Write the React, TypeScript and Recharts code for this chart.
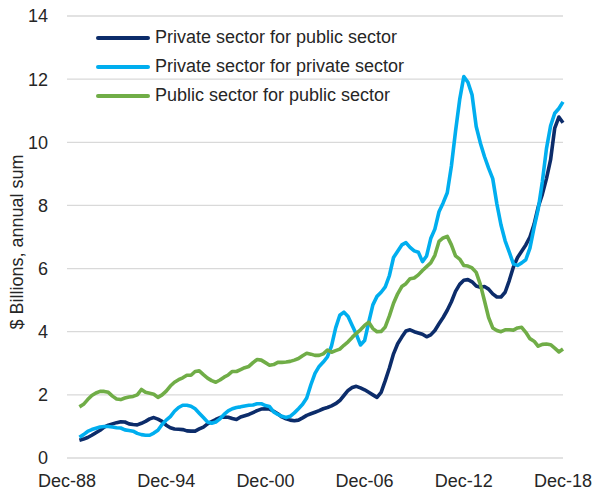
import { LineChart, Line, XAxis, YAxis, CartesianGrid, Legend } from "recharts";

const FONT = '"Liberation Sans", Arial, sans-serif';
const TEXT_COLOR = "#262626";

// quarterly categories, Dec-88 .. Dec-18
const MONTHS = ["Mar", "Jun", "Sep", "Dec"];
const QUARTERS: string[] = [];
for (let i = 0; i <= 120; i++) {
  const q = i + 3;
  const yr = 1988 + Math.floor(q / 4);
  QUARTERS.push(`${MONTHS[q % 4]}-${String(yr % 100).padStart(2, "0")}`);
}
const X_TICKS = ["Dec-88", "Dec-94", "Dec-00", "Dec-06", "Dec-12", "Dec-18"];
const Y_TICKS = [0, 2, 4, 6, 8, 10, 12, 14];

// series begin at Sep-89 (first annual sum)
const FIRST_POINT = 3;

const privateForPublic = [
  0.56, 0.6, 0.65, 0.72, 0.8, 0.88, 0.98, 1.04, 1.08, 1.12,
  1.15, 1.14, 1.08, 1.06, 1.05, 1.1, 1.16, 1.24, 1.28, 1.23,
  1.16, 1.04, 0.96, 0.92, 0.91, 0.9, 0.86, 0.85, 0.85, 0.92,
  0.98, 1.08, 1.15, 1.22, 1.28, 1.3, 1.29, 1.25, 1.22, 1.3,
  1.34, 1.38, 1.44, 1.5, 1.55, 1.56, 1.55, 1.48, 1.4, 1.3,
  1.24, 1.2, 1.18, 1.2, 1.27, 1.35, 1.4, 1.45, 1.5, 1.56,
  1.6, 1.65, 1.72, 1.82, 1.98, 2.14, 2.23, 2.27, 2.22, 2.16,
  2.08, 2.0, 1.92, 2.08, 2.45, 2.85, 3.3, 3.62, 3.83, 4.02,
  4.06, 4.0, 3.96, 3.92, 3.84, 3.9, 4.04, 4.25, 4.45, 4.68,
  4.95, 5.28, 5.5, 5.63, 5.65, 5.58, 5.45, 5.41, 5.43, 5.35,
  5.2, 5.1, 5.1, 5.25, 5.62, 6.05, 6.35, 6.55, 6.75, 7.0,
  7.4, 7.95, 8.35, 8.85, 9.45, 10.45, 10.8, 10.62,
];

const privateForPrivate = [
  0.66, 0.74, 0.84, 0.9, 0.94, 0.98, 1.0, 1.0, 0.98, 0.96,
  0.95, 0.89, 0.87, 0.85, 0.78, 0.74, 0.72, 0.72, 0.79, 0.88,
  1.06, 1.2, 1.31, 1.48, 1.6, 1.67, 1.67, 1.64, 1.56, 1.42,
  1.28, 1.14, 1.1, 1.14, 1.24, 1.38, 1.49, 1.56, 1.6, 1.62,
  1.65, 1.67, 1.68, 1.72, 1.72, 1.66, 1.63, 1.46, 1.38, 1.32,
  1.28, 1.32, 1.43, 1.56, 1.7, 1.9, 2.32, 2.68, 2.9, 3.04,
  3.2, 3.55, 4.12, 4.52, 4.62, 4.48, 4.2, 3.92, 3.58, 3.72,
  4.3, 4.85, 5.12, 5.25, 5.42, 5.78, 6.35, 6.55, 6.75, 6.82,
  6.67, 6.56, 6.52, 6.22, 6.4, 6.95, 7.25, 7.8, 8.08, 8.4,
  9.25, 10.35, 11.35, 12.08, 11.9, 11.5, 10.5, 9.98, 9.55, 9.18,
  8.85, 8.05, 7.38, 6.88, 6.52, 6.15, 6.1, 6.18, 6.28, 6.65,
  7.3, 7.88, 8.75, 9.8, 10.52, 10.92, 11.07, 11.28,
];

const publicForPublic = [
  1.62, 1.7, 1.85, 1.98, 2.06, 2.11, 2.11, 2.08, 1.96, 1.87,
  1.85, 1.9, 1.93, 1.95, 2.0, 2.17, 2.08, 2.05, 2.02, 1.92,
  2.0, 2.12, 2.28, 2.4, 2.48, 2.54, 2.62, 2.62, 2.74, 2.76,
  2.64, 2.53, 2.45, 2.4, 2.47, 2.56, 2.63, 2.74, 2.74, 2.8,
  2.86, 2.9, 3.02, 3.12, 3.1, 3.02, 2.94, 2.96, 3.03, 3.03,
  3.04, 3.06, 3.1, 3.15, 3.24, 3.32, 3.29, 3.25, 3.25, 3.3,
  3.42, 3.35, 3.4, 3.45, 3.57, 3.68, 3.82, 3.95, 4.06, 4.2,
  4.3, 4.1, 4.0, 4.01, 4.15, 4.5, 4.9, 5.2, 5.43, 5.52,
  5.68, 5.7, 5.8, 5.94, 6.06, 6.18, 6.42, 6.86, 6.97, 7.02,
  6.75, 6.4, 6.3, 6.1, 6.08, 6.02, 5.88, 5.5, 4.98, 4.45,
  4.12, 4.04, 4.0, 4.06, 4.06, 4.05, 4.12, 4.14, 3.98, 3.78,
  3.7, 3.54, 3.6, 3.61, 3.59, 3.48, 3.36, 3.45,
];

const SERIES = [
  { key: "privPub", name: "Private sector for public sector", color: "#0C2C6A", values: privateForPublic },
  { key: "privPriv", name: "Private sector for private sector", color: "#00AEEF", values: privateForPrivate },
  { key: "pubPub", name: "Public sector for public sector", color: "#70AD47", values: publicForPublic },
];

const data = QUARTERS.map((label, i) => {
  const row: { [k: string]: string | number | null } = { label };
  SERIES.forEach((s) => {
    row[s.key] = i >= FIRST_POINT ? s.values[i - FIRST_POINT] : null;
  });
  return row;
});

function LegendBox() {
  return (
    <div style={{ fontFamily: FONT, fontSize: 18, color: TEXT_COLOR }}>
      {SERIES.map((s) => (
        <div key={s.key} style={{ display: "flex", alignItems: "center", height: 29 }}>
          <span
            style={{
              display: "inline-block",
              width: 54,
              height: 4,
              borderRadius: 2,
              background: s.color,
              marginRight: 5,
            }}
          />
          <span style={{ whiteSpace: "nowrap" }}>{s.name}</span>
        </div>
      ))}
    </div>
  );
}

export default function App() {
  const tickStyle = { fill: TEXT_COLOR, fontSize: 18, fontFamily: FONT };
  return (
    <div style={{ position: "absolute", left: 0, top: 0, width: 601, height: 490, background: "#fff" }}>
      <LineChart width={601} height={490} data={data} margin={{ top: 16, right: 38, left: 0, bottom: 0 }}>
        <CartesianGrid vertical={false} stroke="#D9D9D9" strokeWidth={1.3} />
        <XAxis
          dataKey="label"
          ticks={X_TICKS}
          interval={0}
          axisLine={false}
          tickLine={false}
          tickMargin={10}
          height={32}
          tick={tickStyle}
        />
        <YAxis
          domain={[0, 14]}
          ticks={Y_TICKS}
          axisLine={false}
          tickLine={false}
          tickMargin={13}
          width={67}
          tick={tickStyle}
          label={{
            value: "$ Billions,  annual sum",
            angle: -90,
            position: "insideLeft",
            offset: 17,
            dy: 5,
            style: { textAnchor: "middle", fill: TEXT_COLOR, fontSize: 18, fontFamily: FONT },
          }}
        />
        <Legend
          layout="vertical"
          align="center"
          verticalAlign="middle"
          wrapperStyle={{ left: 96, top: 23, width: "auto" }}
          content={() => <LegendBox />}
        />
        {SERIES.map((s) => (
          <Line
            key={s.key}
            type="linear"
            dataKey={s.key}
            name={s.name}
            stroke={s.color}
            strokeWidth={3.6}
            strokeLinejoin="round"
            dot={false}
            activeDot={false}
            connectNulls={false}
            isAnimationActive={false}
          />
        ))}
      </LineChart>
    </div>
  );
}
